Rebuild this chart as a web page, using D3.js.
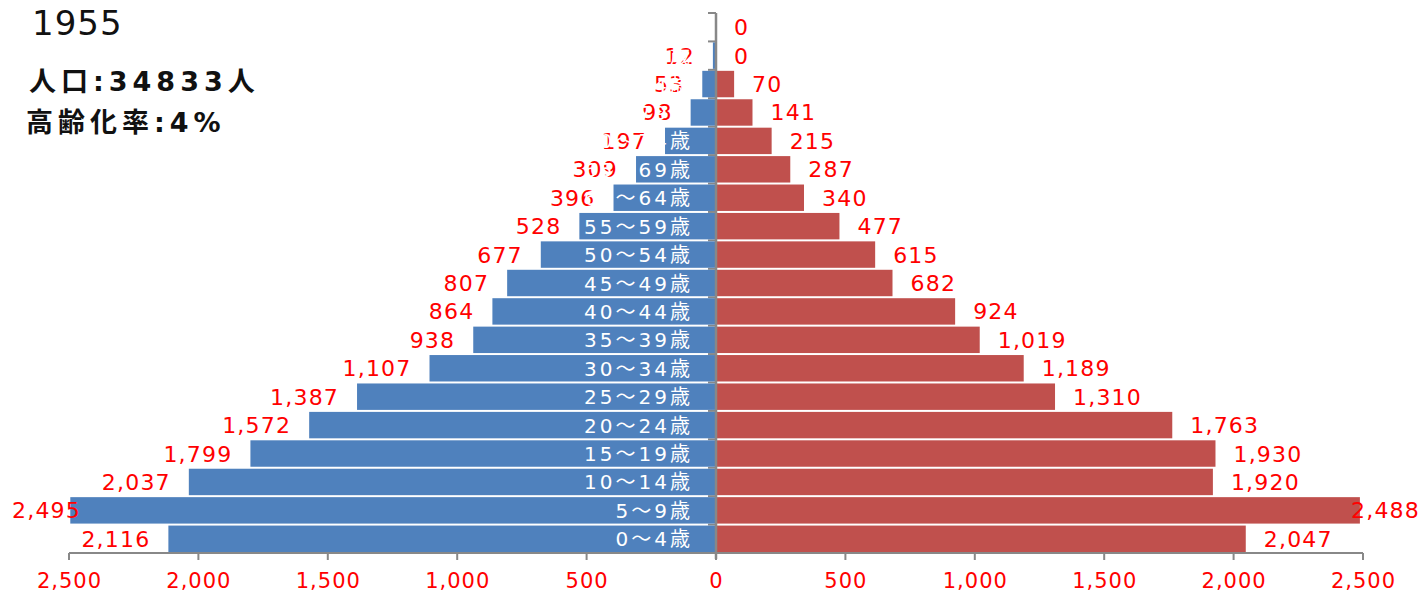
<!DOCTYPE html>
<html><head><meta charset="utf-8">
<script src="https://cdn.jsdelivr.net/npm/d3@7"></script>
<style>body{margin:0;background:#fff;}svg{display:block;}</style>
</head><body>
<svg id="c" width="1422" height="592"></svg>
<script>
const ages = ["0～4歳","5～9歳","10～14歳","15～19歳","20～24歳","25～29歳","30～34歳","35～39歳","40～44歳","45～49歳","50～54歳","55～59歳","60～64歳","65～69歳","70～74歳","75～79歳","80～84歳","85～89歳","90歳～"];
const male   = [2116,2495,2037,1799,1572,1387,1107,938,864,807,677,528,396,309,197,98,53,12,null];
const female = [2047,2488,1920,1930,1763,1310,1189,1019,924,682,615,477,340,287,215,141,70,0,0];
const ticks = [0,500,1000,1500,2000,2500];
const year = "1955";
const popText = "人口:34833人";
const agingText = "高齢化率:4%";

const svg = d3.select("#c");
const cx = 716, plotTop = 13, plotBottom = 553;
const xl = d3.scaleLinear().domain([0,2500]).range([cx, 69]);
const xr = d3.scaleLinear().domain([0,2500]).range([cx, 1363]);
const y = d3.scaleBand().domain(ages.slice().reverse()).range([plotTop, plotBottom]).paddingInner(0.07).paddingOuter(0.035);
const fmt = d3.format(",");
const numFont = "'DejaVu Sans', 'Noto Sans CJK JP', sans-serif";

// category ticks (behind bars)
const bounds = d3.range(ages.length + 1).map(i => plotTop + i * (plotBottom - plotTop) / ages.length);
svg.append("g").selectAll("line").data(bounds).join("line")
  .attr("x1", cx - 8).attr("x2", cx).attr("y1", d => d).attr("y2", d => d)
  .attr("stroke", "#888").attr("stroke-width", 2);

// bars
svg.append("g").selectAll("rect").data(ages.map((a,i)=>({a, v: male[i]})).filter(d=>d.v))
  .join("rect")
  .attr("x", d => xl(d.v)).attr("width", d => cx - xl(d.v))
  .attr("y", d => y(d.a)).attr("height", y.bandwidth())
  .attr("fill", "#4f81bd");
svg.append("g").selectAll("rect").data(ages.map((a,i)=>({a, v: female[i]})).filter(d=>d.v))
  .join("rect")
  .attr("x", cx).attr("width", d => xr(d.v) - cx)
  .attr("y", d => y(d.a)).attr("height", y.bandwidth())
  .attr("fill", "#c0504d");

// vertical axis line
svg.append("line").attr("x1", cx).attr("x2", cx).attr("y1", plotTop).attr("y2", plotBottom + 6)
  .attr("stroke", "#888").attr("stroke-width", 2.5);

// bottom axis
const axg = svg.append("g");
axg.append("line").attr("x1", xl(2500)).attr("x2", xr(2500)).attr("y1", plotBottom).attr("y2", plotBottom)
  .attr("stroke", "#888").attr("stroke-width", 2);
const tickData = [];
ticks.forEach(t => { tickData.push({t, x: xl(t)}); if (t) tickData.push({t, x: xr(t)}); });
axg.selectAll("line.t").data(tickData).join("line").attr("class","t")
  .attr("x1", d => d.x).attr("x2", d => d.x).attr("y1", plotBottom).attr("y2", plotBottom + 7)
  .attr("stroke", "#888").attr("stroke-width", 2);
axg.selectAll("text").data(tickData).join("text")
  .attr("x", d => d.x + 0.5).attr("y", 588).attr("text-anchor", "middle")
  .attr("font-family", numFont).attr("font-size", 21).attr("letter-spacing", 1)
  .attr("fill", "#ff0000").text(d => fmt(d.t));

// value labels
const labG = svg.append("g").attr("font-family", numFont).attr("font-size", 22)
  .attr("letter-spacing", 1.2).attr("fill", "#ff0000");
ages.forEach((a, i) => {
  const yc = y(a) + y.bandwidth() / 2 + 8;
  if (male[i] !== null) {
    const t = labG.append("text").attr("y", yc).attr("text-anchor", "end").text(fmt(male[i]));
    const w = t.node().getComputedTextLength();
    let xe = xl(male[i]) - 18;
    if (xe - w < 12) xe = 12 + w;
    t.attr("x", xe);
  }
  if (female[i] !== null) {
    const t = labG.append("text").attr("y", yc).attr("text-anchor", "start").text(fmt(female[i]));
    const w = t.node().getComputedTextLength();
    let xs = xr(female[i]) + 18;
    if (xs + w > 1420) xs = 1420 - w;
    t.attr("x", xs);
  }
});

// age labels (white)
svg.append("g").selectAll("text").data(ages).join("text")
  .attr("x", 693).attr("y", d => y(d) + y.bandwidth() / 2 + 7.5)
  .attr("text-anchor", "end").attr("font-family", numFont).attr("font-size", 20)
  .attr("letter-spacing", 3).attr("fill", "#ffffff").text(d => d);

// titles
svg.append("text").attr("x", 32).attr("y", 35).attr("font-family", "'DejaVu Sans', sans-serif")
  .attr("font-size", 34).attr("letter-spacing", 1).attr("fill", "#111").text(year);
svg.append("text").attr("x", 29).attr("y", 91).attr("font-family", "'DejaVu Sans', 'Noto Sans CJK JP', sans-serif")
  .attr("font-weight", "bold").attr("font-size", 27).attr("letter-spacing", 5).attr("fill", "#111").text(popText);
svg.append("text").attr("x", 26).attr("y", 132).attr("font-family", "'DejaVu Sans', 'Noto Sans CJK JP', sans-serif")
  .attr("font-weight", "bold").attr("font-size", 27).attr("letter-spacing", 5).attr("fill", "#111").text(agingText);
</script>
</body></html>
